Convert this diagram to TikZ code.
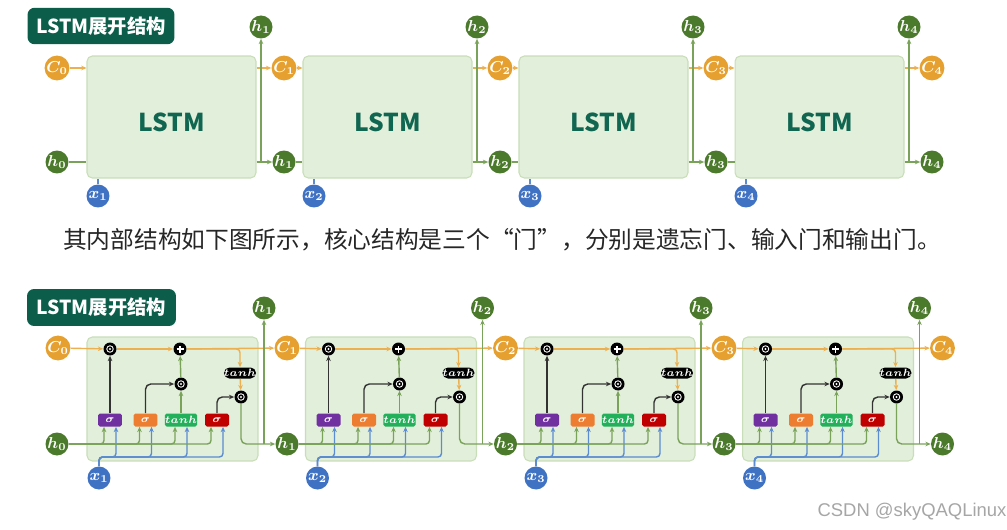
\documentclass[tikz,border=0pt]{standalone}
\usepackage{fontspec}
\usepackage{color}
\usepackage{tikz}
\usetikzlibrary{arrows.meta}
\newfontfamily\cjk{Noto Sans CJK SC}
\newfontfamily\wmfont{Liberation Sans}
\definecolor{titlegreen}{RGB}{12,94,74}
\definecolor{cellfill}{RGB}{226,239,218}
\definecolor{celldraw}{RGB}{200,222,185}
\definecolor{lstmtext}{RGB}{16,102,80}
\definecolor{corange}{RGB}{229,160,48}
\definecolor{hgreen}{RGB}{76,122,44}
\definecolor{xblue}{RGB}{64,114,196}
\definecolor{ccol}{RGB}{236,176,80}
\definecolor{hcol}{RGB}{122,163,90}
\definecolor{xcol}{RGB}{91,139,208}
\definecolor{gpurple}{RGB}{112,48,160}
\definecolor{gorange}{RGB}{237,125,49}
\definecolor{ggreen}{RGB}{34,176,90}
\definecolor{gred}{RGB}{192,0,0}

\begin{document}
\begin{tikzpicture}[x=0.02cm,y=-0.02cm,>={Stealth[length=3pt,width=2.6pt]},
       state/.style={circle,minimum size=0.46cm,inner sep=0pt,text=white,font=\boldmath\fontsize{9}{9}\selectfont},
       cnode/.style={state,fill=corange},
       hnode/.style={state,fill=hgreen},
       xnode/.style={state,fill=xblue},
       cell/.style={draw=celldraw,fill=cellfill,rounded corners=3pt,line width=0.6pt},
       title/.style={fill=titlegreen,rounded corners=4pt,text=white,font=\cjk\bfseries\fontsize{11}{11}\selectfont,minimum width=2.94cm,minimum height=0.73cm},
       cl/.style={draw=ccol,line width=0.8pt},
       hl/.style={draw=hcol,line width=0.8pt},
       xl/.style={draw=xcol,line width=0.8pt},
       dl/.style={draw=black!80,line width=0.8pt},
       gate/.style={rectangle,rounded corners=1pt,minimum width=0.48cm,minimum height=0.26cm,inner sep=0pt,text=white,font=\boldmath\fontsize{6}{6}\selectfont},
       mul/.style={circle,fill=black,minimum size=0.26cm,inner sep=0pt,
         path picture={\draw[white,line width=0.5pt] (path picture bounding box.center) circle (0.065cm);
                       \fill[white] (path picture bounding box.center) circle (0.022cm);}},
       add/.style={circle,fill=black,minimum size=0.26cm,inner sep=0pt,
         path picture={\draw[white,line width=0.8pt] ([xshift=-0.07cm]path picture bounding box.center) -- ([xshift=0.07cm]path picture bounding box.center)
                       ([yshift=-0.07cm]path picture bounding box.center) -- ([yshift=0.07cm]path picture bounding box.center);}},
       act/.style={fill=black,rounded corners=0.11cm,minimum width=0.54cm,minimum height=0.22cm,inner sep=0pt,text=white,font=\boldmath\fontsize{6}{6}\selectfont}]
       \useasboundingbox (0,0) rectangle (1007,530);
       \fill[white] (0,0) rectangle (1007,530);

       % top row: unrolled cells
       \node[title] (title1) at (101,26) {LSTM展开结构};
       \node[cnode] (C0) at (57,68) {$C_0$};
       \node[hnode] (h0) at (57,162) {$h_0$};
       \foreach \i [evaluate=\i as \dx using 216*(\i-1), evaluate=\i as \j using int(\i-1)] in {1,...,4} {
         \node[cell,minimum width=3.38cm,minimum height=2.44cm,
               label={[yshift=-0.1cm,text=lstmtext,font=\cjk\bfseries\fontsize{14}{14}\selectfont]center:LSTM}] (box\i) at (171.5+\dx,117) {};
         \node[cnode] (C\i) at (284+\dx,68) {$C_\i$};
         \node[hnode] (h\i) at (284+\dx,162) {$h_\i$};
         \node[hnode] (hu\i) at (261+\dx,27) {$h_\i$};
         \node[xnode] (x\i) at (98+\dx,196) {$x_\i$};
         \draw[cl,->] (C\j) -- (C\j -| box\i.west);
         \draw[cl,->] (C\j -| box\i.east) -- (C\i);
         \draw[hl] (h\j) -- (h\j -| box\i.west);
         \draw[hl,->] (h\i -| box\i.east) -- (h\i);
         \draw[hl,->] (hu\i |- h\i) -- (hu\i);
         \draw[xl] (x\i) -- (x\i |- box\i.south);
       }

       \node[font=\cjk\fontsize{13.5}{16}\selectfont,text=black!85] (desc) at (502,240)
         {其内部结构如下图所示，核心结构是三个“门”，分别是遗忘门、输入门和输出门。};

       % bottom row: gates inside each cell
       \node[title,minimum width=2.98cm,minimum height=0.74cm] (title2) at (101.5,307.5) {LSTM展开结构};
       \node[cnode] (bC0) at (58,348) {$C_0$};
       \node[hnode] (bh0) at (57,444) {$h_0$};
       \coordinate (xbus) at (0,457);
       \foreach \i [evaluate=\i as \dx using 218.5*(\i-1), evaluate=\i as \j using int(\i-1)] in {1,...,4} {
         \node[cell,minimum width=3.42cm,minimum height=2.48cm] (bbox\i) at (172.5+\dx,399) {};
         \node[cnode] (bC\i) at (287+\dx,348) {$C_\i$};
         \node[hnode] (bh\i) at (287+\dx,444) {$h_\i$};
         \node[hnode] (bhu\i) at (264+\dx,308) {$h_\i$};
         \node[xnode] (bx\i) at (99+\dx,478) {$x_\i$};
         \node[mul] (fm\i) at (110+\dx,349) {};
         \node[add] (ap\i) at (180+\dx,349) {};
         \node[mul] (im\i) at (181+\dx,384) {};
         \node[act] (tc\i) at (240+\dx,373) {$tanh$};
         \node[mul] (om\i) at (241+\dx,397) {};
         \node[gate,fill=gpurple] (sf\i) at (110+\dx,420) {$\sigma$};
         \node[gate,fill=gorange] (si\i) at (145.5+\dx,420) {$\sigma$};
         \node[gate,fill=ggreen] (tg\i) at (181+\dx,420) {$tanh$};
         \node[gate,fill=gred] (so\i) at (217+\dx,420) {$\sigma$};
         \draw[cl,->] (bC\j) -- (fm\i);
         \draw[cl,->] (fm\i) -- (ap\i);
         \draw[cl,->] (ap\i) -- (bC\i);
         \draw[cl,->,rounded corners=2pt] (ap\i.east) -| (tc\i.north);
         \draw[cl,->] (tc\i) -- (om\i);
         \draw[dl,->] (sf\i) -- (fm\i);
         \draw[dl,->,rounded corners=3pt] (si\i.north) |- (im\i.west);
         \draw[hl,->] (tg\i) -- (im\i);
         \draw[hl,->] (im\i) -- (ap\i);
         \draw[dl,->,rounded corners=3pt] (so\i.north) |- (om\i.west);
         \draw[hl,->,rounded corners=3pt] (om\i.south) |- (bh\i);
         \draw[hl,->] (bhu\i |- bh\i) -- (bhu\i);
         \foreach \g in {sf,si,tg,so} {
           \draw[hl,->,rounded corners=2pt] (bh\j) -| ([xshift=-0.12cm]\g\i.south);
           \draw[xl,->,rounded corners=2pt] (bx\i.north) |- ([xshift=0.12cm]\g\i.south |- xbus) -- ([xshift=0.12cm]\g\i.south);
         }
       }

       \node[font=\wmfont\fontsize{10.5}{10.5}\selectfont,text=black!35] (wm) at (912,512) {CSDN @skyQAQLinux};
\end{tikzpicture}
\end{document}
